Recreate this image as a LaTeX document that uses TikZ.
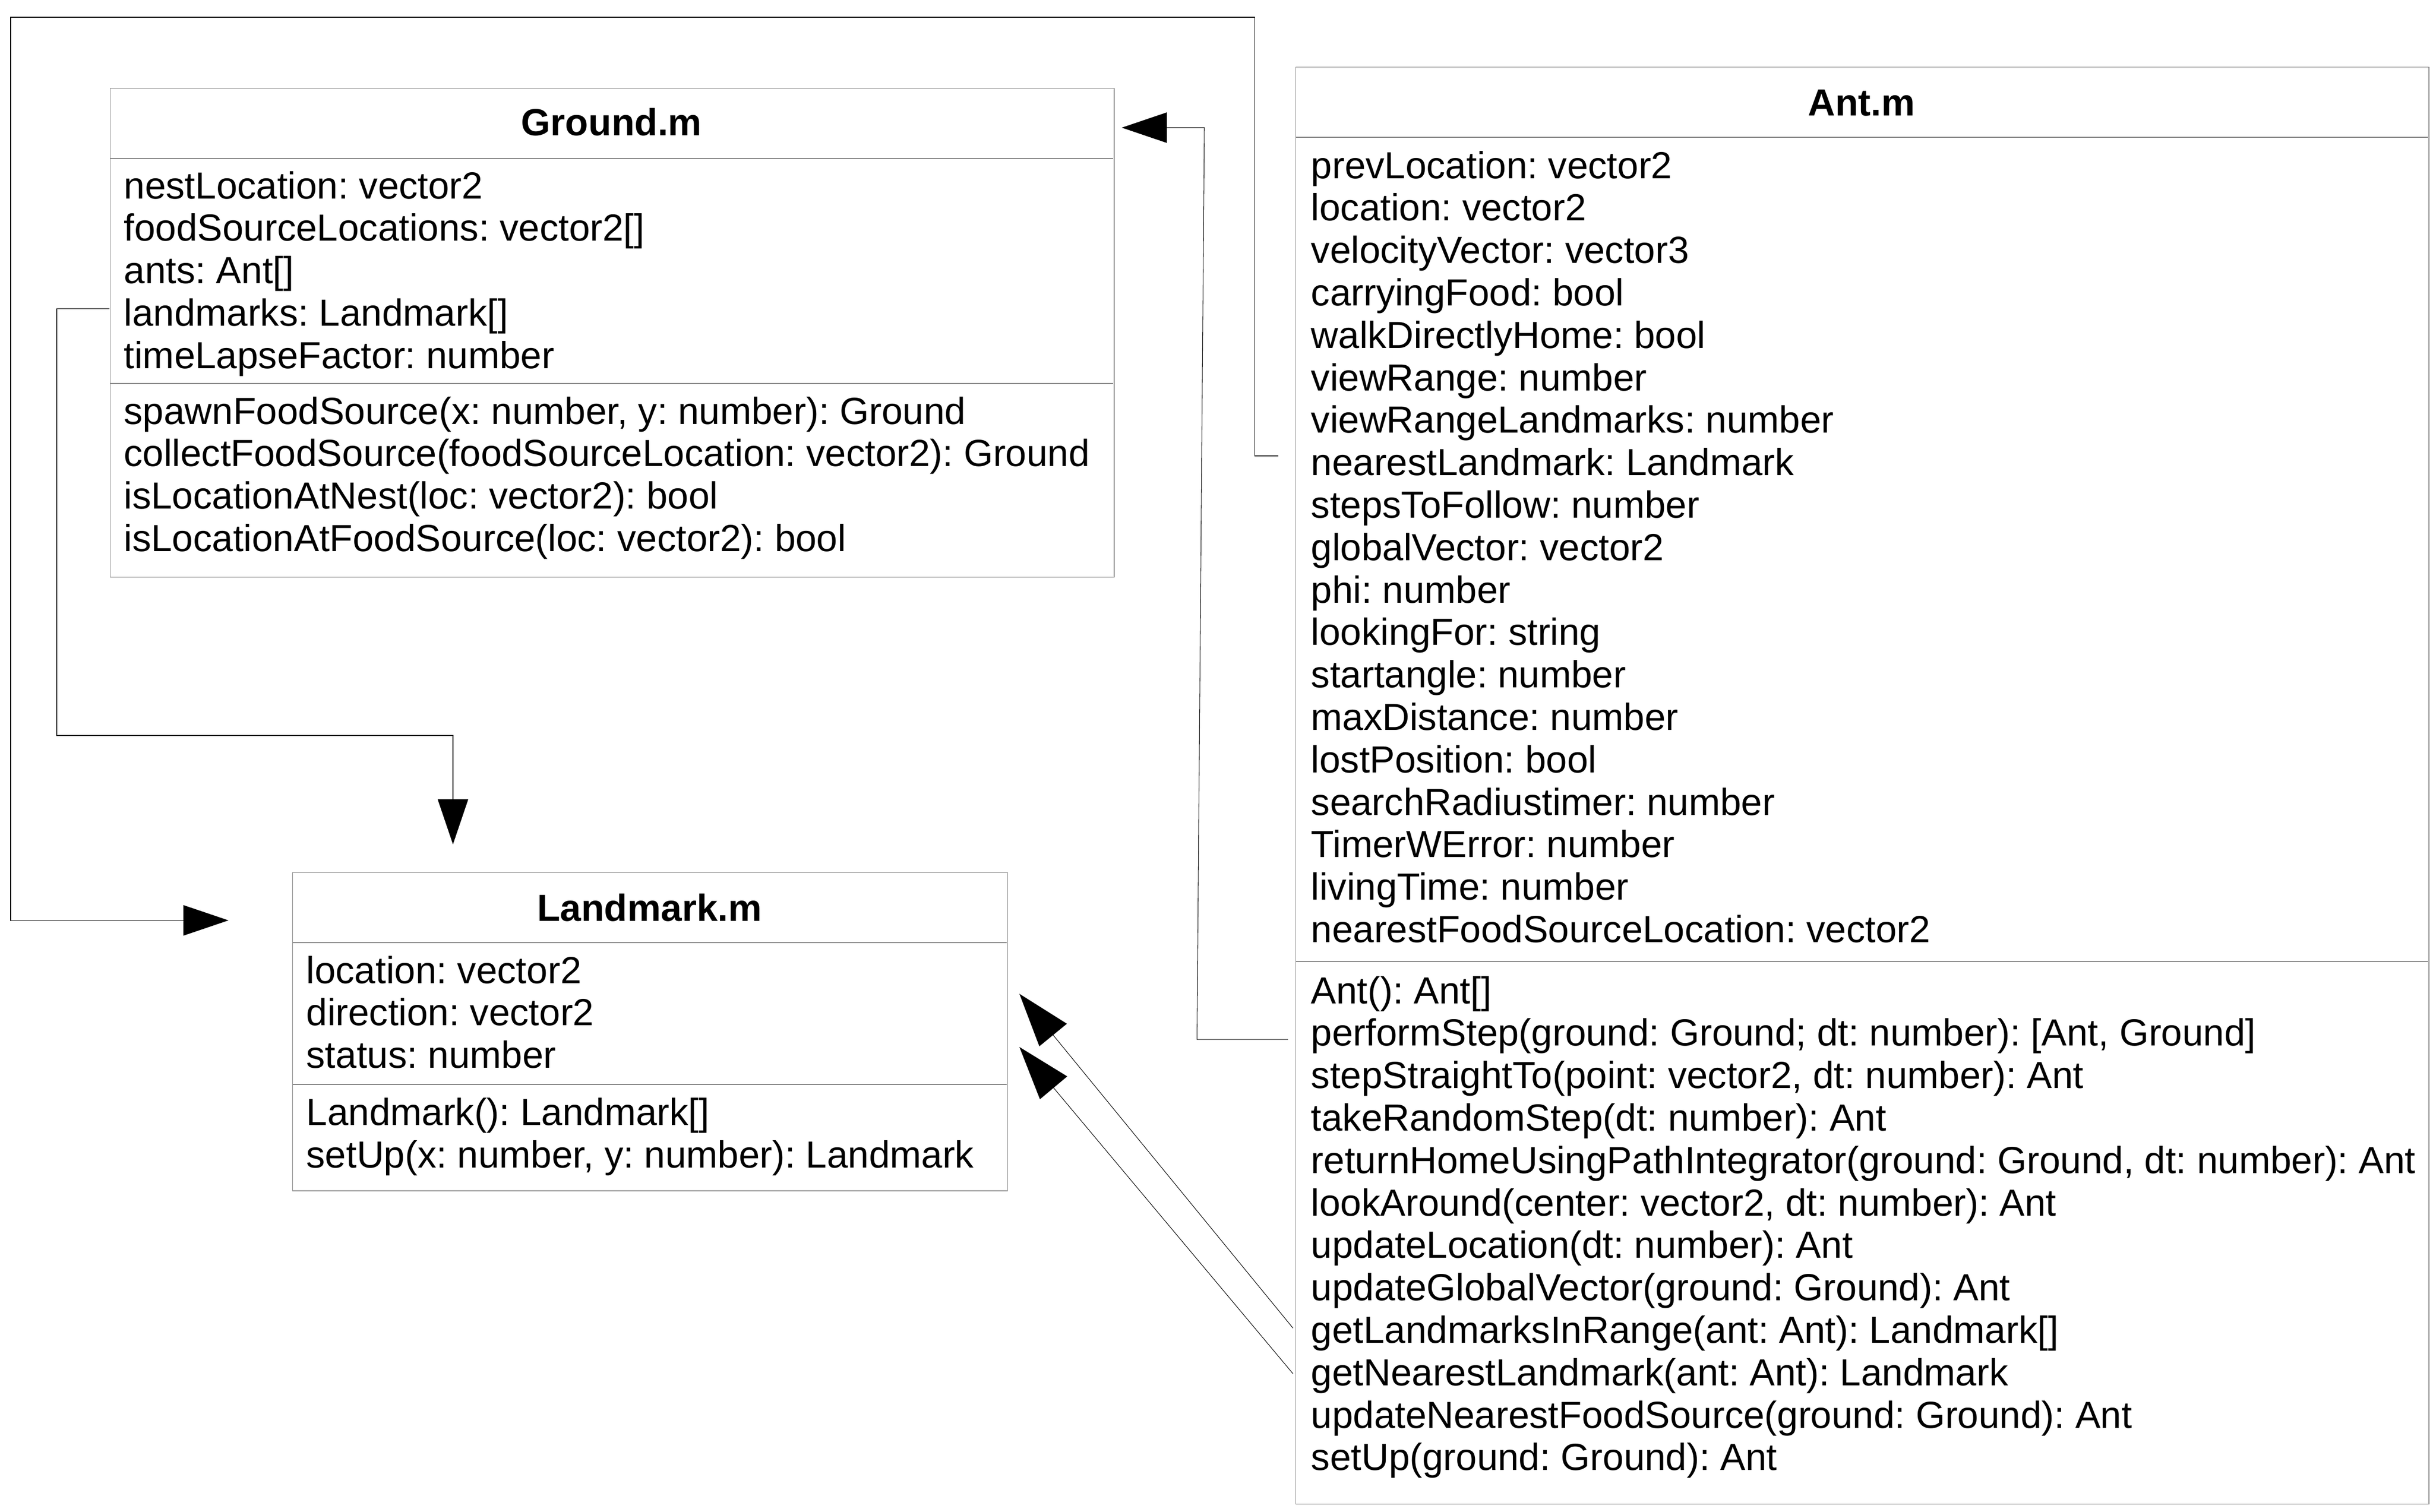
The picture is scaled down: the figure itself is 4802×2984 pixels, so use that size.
\documentclass[tikz,border=0pt]{standalone}
\usepackage{fontspec}
\setmainfont{Liberation Sans}
\usetikzlibrary{arrows.meta}
\frenchspacing
\begin{document}
\begin{tikzpicture}[x=0.01cm,y=-0.01cm,
  umlbox/.style={draw=black!50,line width=0.4pt,rectangle,inner sep=0pt,anchor=north west},
  sepline/.style={draw=black!50,line width=0.4pt},
  rowtext/.style={anchor=base west,inner sep=0pt,font=\fontsize{21.2pt}{23.84pt}\selectfont\frenchspacing},
  headtext/.style={anchor=base,inner sep=0pt,font=\fontsize{21.2pt}{23.84pt}\selectfont\bfseries},
  conn/.style={draw=black,line width=0.3pt},
  tipA/.style={-{Triangle[length=0.89cm,width=0.6cm]}},
  tipB/.style={-{Triangle[length=1.05cm,width=0.7cm]}}]
\useasboundingbox (0,0) rectangle (4802,2984);

% ---------- Ground.m ----------
\node[umlbox,minimum width=19.80cm,minimum height=9.64cm] (ground) at (217,174) {};
\draw[sepline] (217,313) -- (2197,313);
\draw[sepline] (217,757) -- (2197,757);
\node[headtext] (groundhead) at (1207,267) {Ground.m};
\foreach \t [count=\i] in {{nestLocation: vector2},{foodSourceLocations: vector2[]},{ants: Ant[]},{landmarks: Landmark[]},{timeLapseFactor: number}}
  \node[rowtext] (ga\i) at (244,{392+83.8*(\i-1)}) {\t};
\foreach \t [count=\i] in {{spawnFoodSource(x: number, y: number): Ground},{collectFoodSource(foodSourceLocation: vector2): Ground},{isLocationAtNest(loc: vector2): bool},{isLocationAtFoodSource(loc: vector2): bool}}
  \node[rowtext] (gm\i) at (244,{837+83.8*(\i-1)}) {\t};

% ---------- Landmark.m ----------
\node[umlbox,minimum width=14.10cm,minimum height=6.28cm] (landmark) at (577,1722) {};
\draw[sepline] (577,1861) -- (1987,1861);
\draw[sepline] (577,2141) -- (1987,2141);
\node[headtext] (landhead) at (1282,1818) {Landmark.m};
\foreach \t [count=\i] in {{location: vector2},{direction: vector2},{status: number}}
  \node[rowtext] (la\i) at (604,{1941+83.8*(\i-1)}) {\t};
\foreach \t [count=\i] in {{Landmark(): Landmark[]},{setUp(x: number, y: number): Landmark}}
  \node[rowtext] (lm\i) at (604,{2221.6+83.8*(\i-1)}) {\t};

% ---------- Ant.m ----------
\node[umlbox,minimum width=22.35cm,minimum height=28.35cm] (ant) at (2557,132) {};
\draw[sepline] (2557,271) -- (4792,271);
\draw[sepline] (2557,1898) -- (4792,1898);
\node[headtext] (anthead) at (3674,228) {Ant.m};
\foreach \t [count=\i] in {{prevLocation: vector2},{location: vector2},{velocityVector: vector3},{carryingFood: bool},{walkDirectlyHome: bool},{viewRange: number},{viewRangeLandmarks: number},{nearestLandmark: Landmark},{stepsToFollow: number},{globalVector: vector2},{phi: number},{lookingFor: string},{startangle: number},{maxDistance: number},{lostPosition: bool},{searchRadiustimer: number},{TimerWError: number},{livingTime: number},{nearestFoodSourceLocation: vector2}}
  \node[rowtext] (aa\i) at (2587,{352+83.8*(\i-1)}) {\t};
\foreach \t [count=\i] in {{Ant(): Ant[]},{performStep(ground: Ground; dt: number): [Ant, Ground]},{stepStraightTo(point: vector2, dt: number): Ant},{takeRandomStep(dt: number): Ant},{returnHomeUsingPathIntegrator(ground: Ground, dt: number): Ant},{lookAround(center: vector2, dt: number): Ant},{updateLocation(dt: number): Ant},{updateGlobalVector(ground: Ground): Ant},{getLandmarksInRange(ant: Ant): Landmark[]},{getNearestLandmark(ant: Ant): Landmark},{updateNearestFoodSource(ground: Ground): Ant},{setUp(ground: Ground): Ant}}
  \node[rowtext] (am\i) at (2587,{1981+83.8*(\i-1)}) {\t};

% ---------- connector end points ----------
\coordinate (cNearest) at (2523,900);
\coordinate (cNearestTip) at (451,1817);
\coordinate (cPerform) at (2542,2052);
\coordinate (cPerformTip) at (2214,252);
\coordinate (cLandmarks) at (216,609.5);
\coordinate (cLandmarksTip) at (894,1667);
\coordinate (cGetRange) at (2552,2622);
\coordinate (cGetRangeTip) at (2012,1962);
\coordinate (cGetNearest) at (2552,2712);
\coordinate (cGetNearestTip) at (2012,2067);

% ---------- connectors ----------
% Ant.nearestLandmark -> Landmark
\draw[conn,tipA] (cNearest) -- (2476,900) -- (2476,34) -- (21,34) -- (21,1817) -- (cNearestTip);
% Ant.performStep -> Ground
\draw[conn,tipA] (cPerform) -- (2362.5,2052) -- (2377,252) -- (cPerformTip);
% Ground.landmarks -> Landmark
\draw[conn,tipA] (cLandmarks) -- (112,609.5) -- (112,1452) -- (894,1452) -- (cLandmarksTip);
% Ant.getLandmarksInRange / getNearestLandmark -> Landmark
\draw[conn,tipB] (cGetRange) -- (cGetRangeTip);
\draw[conn,tipB] (cGetNearest) -- (cGetNearestTip);
\end{tikzpicture}
\end{document}
